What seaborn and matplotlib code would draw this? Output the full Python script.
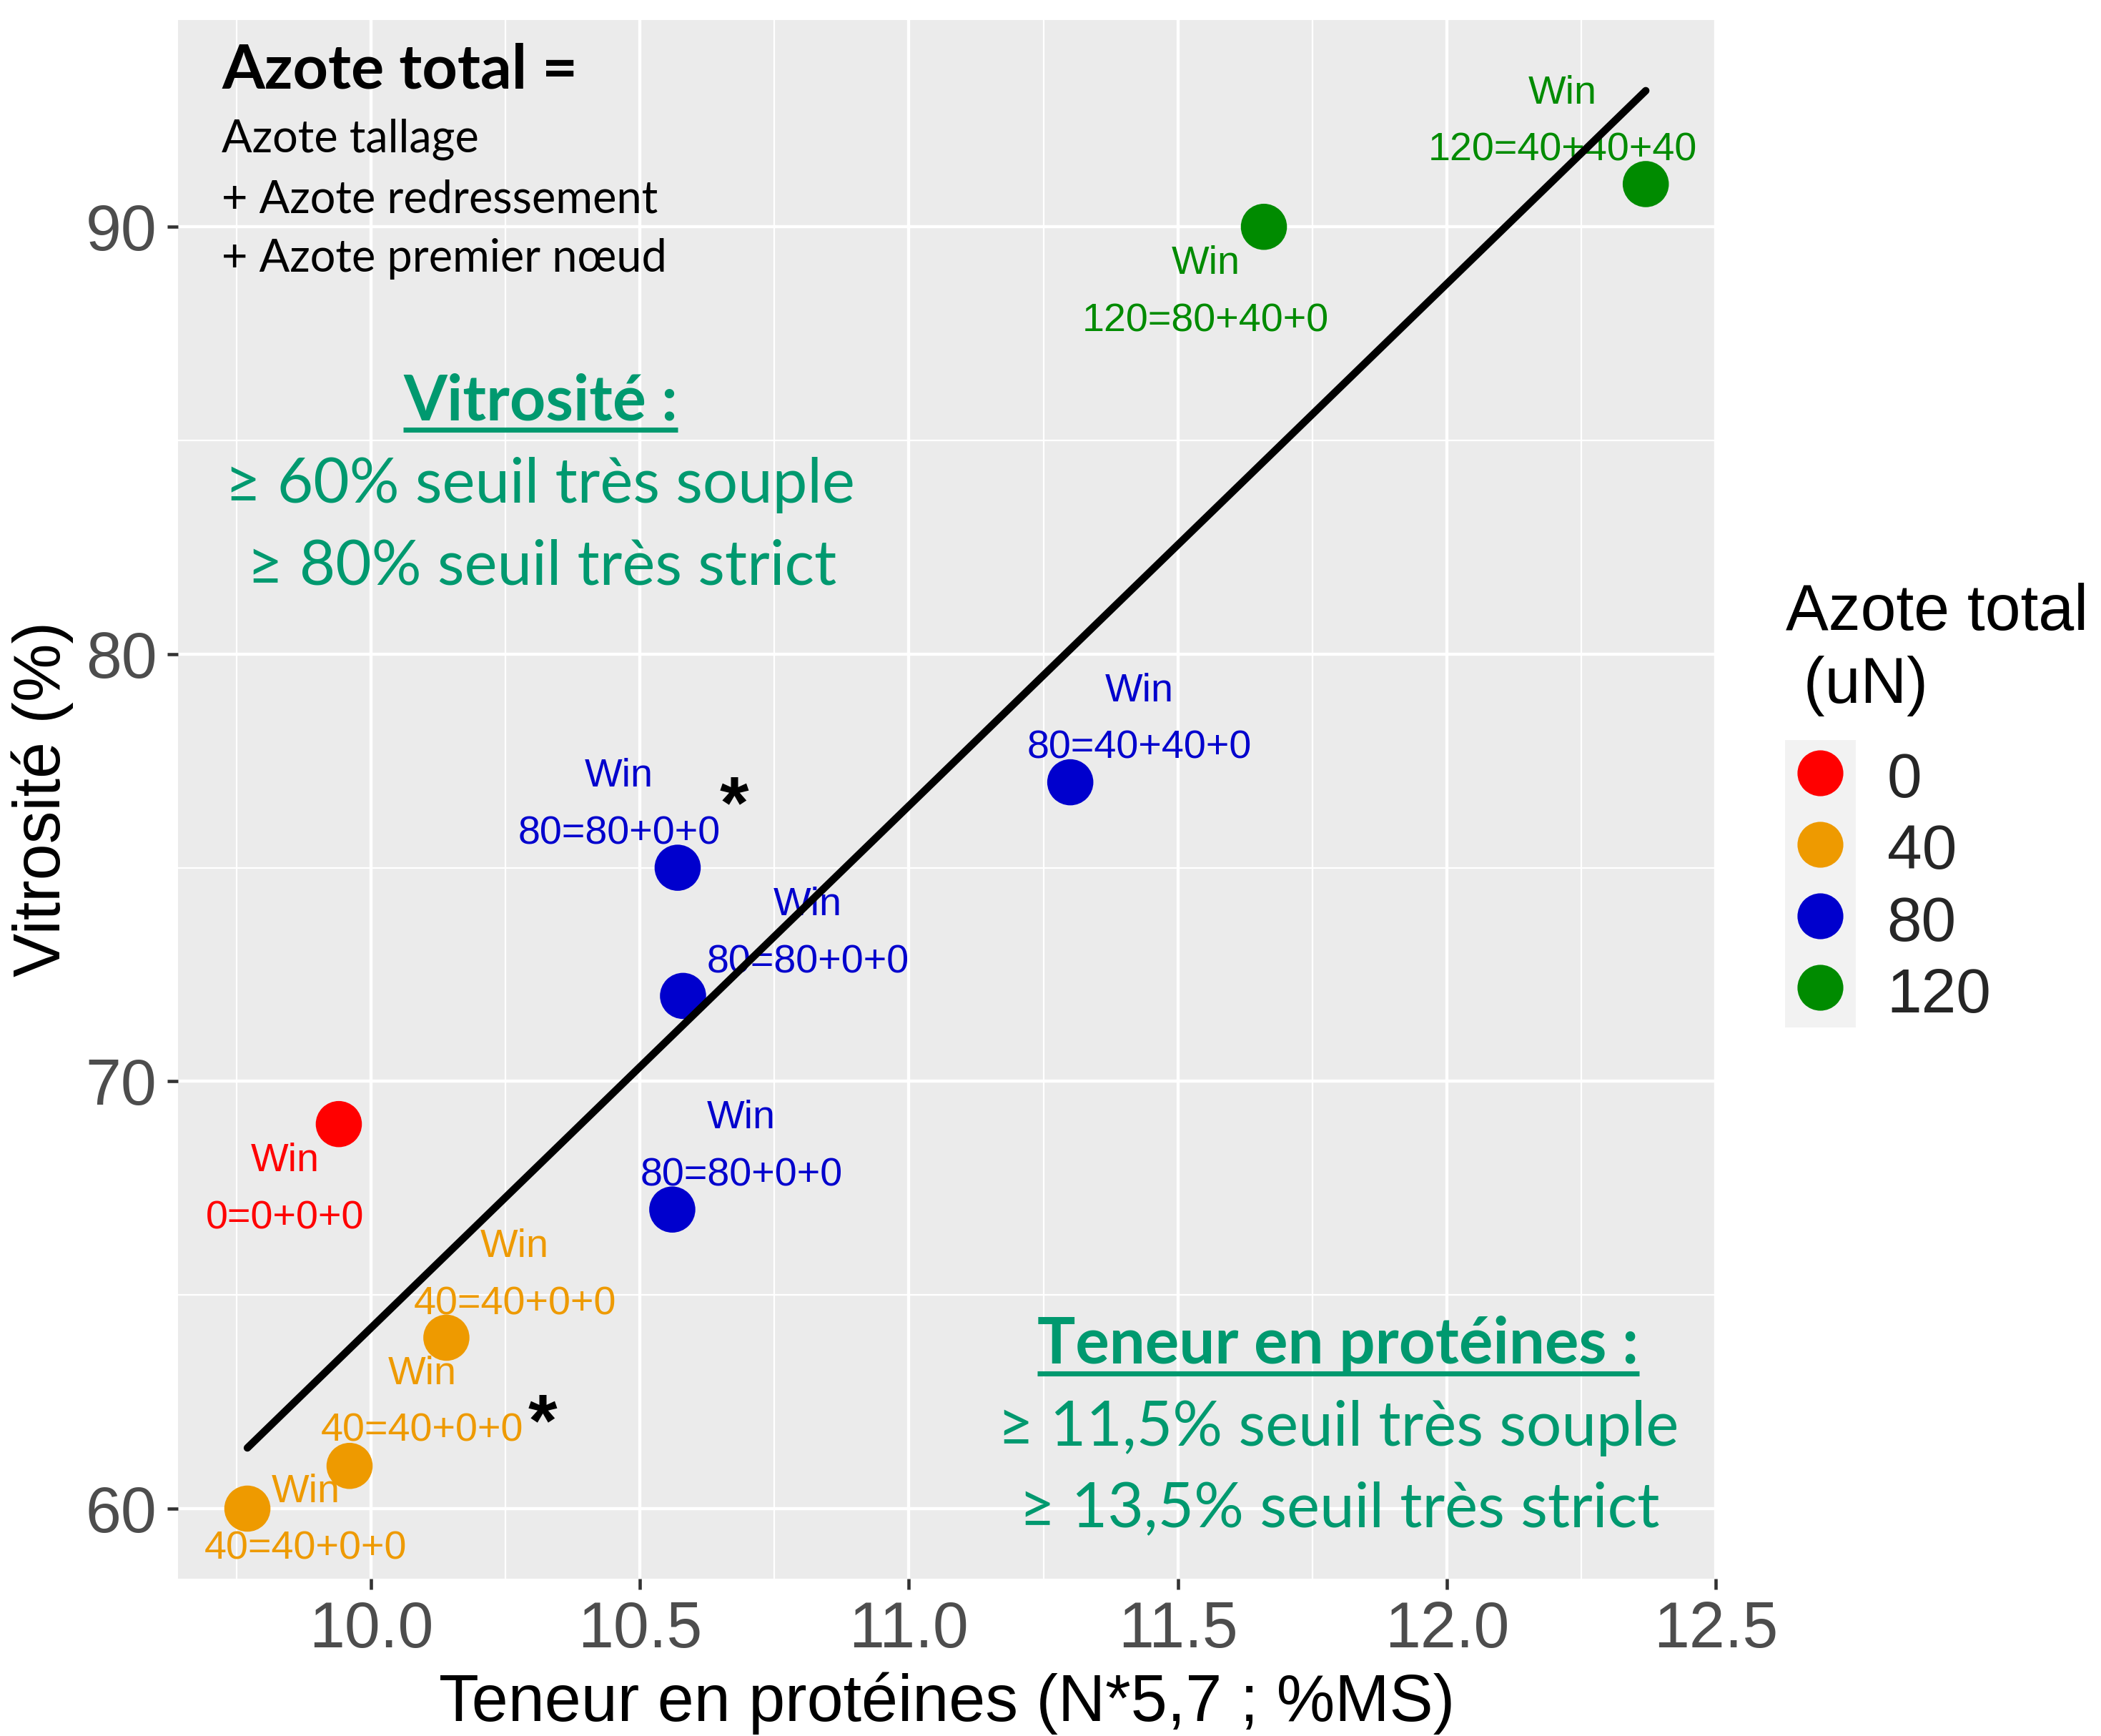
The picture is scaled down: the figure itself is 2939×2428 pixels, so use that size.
import numpy as np
import pandas as pd
import matplotlib
matplotlib.use("Agg")
import matplotlib.pyplot as plt
from matplotlib.lines import Line2D
from matplotlib.patches import Rectangle
from matplotlib.ticker import MultipleLocator
import seaborn as sns

# ---------------- data ----------------
protein = [9.94, 9.77, 9.96, 10.14, 10.57, 10.58, 10.56, 11.30, 11.66, 12.37]
vitrosite = [69, 60, 61, 64, 75, 72, 67, 77, 90, 91]
azote_total = ["0", "40", "40", "40", "80", "80", "80", "80", "120", "120"]
variete = ["Win"] * 10
fractionnement = ["0=0+0+0", "40=40+0+0", "40=40+0+0", "40=40+0+0",
                  "80=80+0+0", "80=80+0+0", "80=80+0+0", "80=40+40+0",
                  "120=80+40+0", "120=40+40+40"]
legend_levels = ["0", "40", "80", "120"]
x_ticks = [10.0, 10.5, 11.0, 11.5, 12.0, 12.5]
y_ticks = [60, 70, 80, 90]
star_x = [10.675, 10.319]
star_y = [76.74, 62.29]

# label placement offsets (data units)
label_dx = [-0.10, 0.108, 0.135, 0.127, -0.109, 0.232, 0.128, 0.128, -0.108, -0.155]
label_dy = [-1.54, -0.28, 1.48, 1.45, 1.46, 1.45, 1.46, 1.46, -1.54, 1.45]

palette = {"0": "#FF0000", "40": "#EE9A00", "80": "#0000CD", "120": "#008B00"}
TEAL = "#00996F"

# ---------------- style ----------------
W, H, DPI = 2939, 2428, 300
sns.set_theme(style="darkgrid")
plt.rcParams.update({
    "axes.facecolor": "#EBEBEB",
    "grid.color": "white",
    "figure.facecolor": "white",
})
plt.rcParams["font.family"] = ["Liberation Sans", "DejaVu Sans"]
CAL = ["Lato", "DejaVu Sans"]

fig = plt.figure(figsize=(W / DPI, H / DPI), dpi=DPI)
ax = fig.add_axes([249 / W, 1 - 2208 / H, (2400 - 249) / W, (2208 - 28) / H])

df = pd.DataFrame({
    "protein": protein,
    "vitrosite": vitrosite,
    "azote": azote_total,
    "variete": variete,
    "frac": fractionnement,
})

sns.scatterplot(data=df, x="protein", y="vitrosite", hue="azote",
                hue_order=legend_levels, palette=palette, s=240,
                linewidth=0, legend=False, ax=ax, zorder=3)
sns.regplot(data=df, x="protein", y="vitrosite", scatter=False, ci=None,
            color="black", line_kws=dict(lw=2.5, zorder=4), ax=ax)

for i in range(len(df)):
    ax.text(protein[i] + label_dx[i], vitrosite[i] + label_dy[i],
            f"{variete[i]}\n{fractionnement[i]}",
            color=palette[azote_total[i]], fontsize=13.4, ha="center",
            va="center", multialignment="center", linespacing=1.7, zorder=2)

for sx, sy in zip(star_x, star_y):
    ax.annotate("*", xy=(sx, sy), xytext=(0, -0.47 * 25), textcoords="offset points",
                ha="center", va="baseline", fontsize=25, fontweight="bold",
                color="black", zorder=5)

ax.set_xlim(9.641, 12.5)
ax.set_ylim(58.36, 94.84)
ax.set_xticks(x_ticks)
ax.set_xticklabels([f"{t:.1f}" for t in x_ticks])
ax.set_yticks(y_ticks)
ax.set_yticklabels([str(t) for t in y_ticks])
ax.xaxis.set_minor_locator(MultipleLocator(0.25))
ax.yaxis.set_minor_locator(MultipleLocator(5))
ax.grid(which="major", color="white", lw=1.05)
ax.grid(which="minor", color="white", lw=0.55)
ax.tick_params(axis="both", which="major", length=3.6, width=1.1,
               color="#333333", labelcolor="#4D4D4D", labelsize=21.5, pad=3.5,
               bottom=True, left=True)
ax.tick_params(axis="both", which="minor", length=0)
for sp in ax.spines.values():
    sp.set_visible(False)

ax.set_xlabel("Teneur en protéines (N*5,7 ; %MS)", fontsize=22, color="black")
ax.set_ylabel("Vitrosité (%)", fontsize=22, color="black")
ax.xaxis.set_label_coords(0.5, -(2338 - 2208) / 2180)
ax.yaxis.set_label_coords((103 - 249) / 2151, 0.5)

# ---------------- legend ----------------
fig.add_artist(Rectangle((2497 / W, 1 - 1437 / H), 99 / W, 402 / H,
                         transform=fig.transFigure, facecolor="#F2F2F2",
                         edgecolor="none", zorder=0))
handles = [Line2D([], [], marker="o", ls="", markerfacecolor=palette[k],
                  markeredgewidth=0, markersize=15.4) for k in legend_levels]
fig.legend(handles, legend_levels, loc="upper left",
           bbox_to_anchor=(2497 / W, 1 - 1046 / H), frameon=False, fontsize=21,
           borderpad=0, borderaxespad=0, labelspacing=0.15, handlelength=1.13,
           handletextpad=0.5, handleheight=1.0)
fig.text(2498 / W, 1 - 815 / H, "Azote total\n (uN)", fontsize=21.5, ha="left",
         va="top", linespacing=1.25, color="black")

# ---------------- annotation blocks ----------------
renderer = fig.canvas.get_renderer()


def fit(t, target_w):
    bb = t.get_window_extent(renderer)
    t.set_fontsize(t.get_fontsize() * target_w / bb.width)
    return t.get_fontsize()


def ftext(x, y, s, **kw):
    return fig.text(x / W, 1 - y / H, s, family=CAL, va="baseline", **kw)


t1 = ftext(310, 123, "Azote total =", fontsize=20, fontweight="bold", ha="left", color="black")
fit(t1, 498)
t2 = ftext(310, 213, "Azote tallage", fontsize=14, ha="left", color="black")
t3 = ftext(310, 297, "+ Azote redressement", fontsize=14, ha="left", color="black")
t4 = ftext(310, 380, "+ Azote premier nœud", fontsize=14, ha="left", color="black")
fs = fit(t3, 610)
t2.set_fontsize(fs)
t4.set_fontsize(fs)

t5 = ftext(756, 587, "Vitrosité :", fontsize=22, fontweight="bold", ha="center", color=TEAL)
fit(t5, 383)
t6 = ftext(755, 703, "≥ 60% seuil très souple", fontsize=22, ha="center", color=TEAL)
t7 = ftext(758, 818, "≥ 80% seuil très strict", fontsize=22, ha="center", color=TEAL)
fs = fit(t6, 881)
t7.set_fontsize(fs)

t8 = ftext(1872, 1907, "Teneur en protéines :", fontsize=22, fontweight="bold", ha="center", color=TEAL)
fit(t8, 842)
t9 = ftext(1872, 2022, "≥ 11,5% seuil très souple", fontsize=22, ha="center", color=TEAL)
t10 = ftext(1874, 2135, "≥ 13,5% seuil très strict", fontsize=22, ha="center", color=TEAL)
fs = fit(t9, 953)
t10.set_fontsize(fs)

for t, yline in [(t5, 601), (t8, 1921)]:
    bb = t.get_window_extent(renderer)
    fig.add_artist(Line2D([bb.x0 / W, bb.x1 / W], [1 - yline / H, 1 - yline / H],
                          transform=fig.transFigure, color=TEAL, lw=1.7,
                          solid_capstyle="butt"))

fig.savefig("out.png", dpi=DPI)
